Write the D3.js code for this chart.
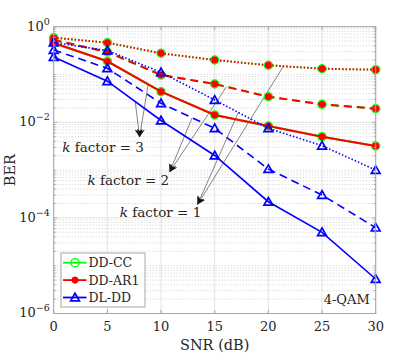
<!DOCTYPE html>
<html>
<head>
<meta charset="utf-8">
<script src="https://cdn.jsdelivr.net/npm/d3@7"></script>
<style>
body { margin: 0; background: #fff; }
</style>
</head>
<body>
<script>
// SNR points (dB)
var snr = [0, 5, 10, 15, 20, 25, 30];

// BER curves, k factor = 1 (dotted), 2 (dashed), 3 (solid)
var ddcc_k1 = [0.589, 0.463, 0.278, 0.201, 0.156, 0.132, 0.126];
var ddcc_k2 = [0.527, 0.296, 0.0977, 0.0633, 0.0343, 0.0238, 0.0193];
var ddcc_k3 = [0.456, 0.189, 0.0437, 0.0142, 0.00837, 0.00500, 0.00319];
var ddar1_k1 = [0.589, 0.463, 0.278, 0.201, 0.156, 0.132, 0.126];
var ddar1_k2 = [0.527, 0.296, 0.0977, 0.0633, 0.0343, 0.0238, 0.0193];
var ddar1_k3 = [0.456, 0.189, 0.0437, 0.0142, 0.00837, 0.00500, 0.00319];
var dldd_k1 = [0.467, 0.318, 0.111, 0.0293, 0.00749, 0.00324, 0.00100];
var dldd_k2 = [0.326, 0.135, 0.0250, 0.00749, 0.00105, 0.000301, 0.0000624];
var dldd_k3 = [0.232, 0.0724, 0.0109, 0.00202, 0.000218, 0.0000500, 0.00000527];

var xTicks = [0, 5, 10, 15, 20, 25, 30];
var yTickExp = [0, -2, -4, -6];

var margin = {top: 26.7, right: 39.3, bottom: 42.5, left: 53.7}
, width = 415 - margin.left - margin.right
, height = 356 - margin.top - margin.bottom;

var x = d3.scaleLinear().domain([0, 30]).range([0, width]);
var y = d3.scaleLog().domain([1e-6, 1]).range([height, 0]);

var svg = d3.select('body').append('svg')
.attr('width', 415)
.attr('height', 356)
.style('font-family', 'DejaVu Serif')
.attr('fill', '#262626');

var main = svg.append('g')
.attr('transform', 'translate(' + margin.left + ',' + margin.top + ')');

// minor grid (dotted) for the log axis
var minor = [];
for (var e = -6; e < 0; e++) {
  for (var m = 1; m < 10; m++) {
    var v = m * Math.pow(10, e);
    if (m == 1 && e % 2 == 0) continue;
    minor.push(v);
  }
}
main.append('g').selectAll('line').data(minor).enter().append('line')
.attr('x1', 0).attr('x2', width)
.attr('y1', function(d) { return y(d); })
.attr('y2', function(d) { return y(d); })
.attr('stroke', '#c4c4c4')
.attr('stroke-width', 0.8)
.attr('stroke-dasharray', '1,2');

// major grid
main.append('g').selectAll('line').data(yTickExp).enter().append('line')
.attr('x1', 0).attr('x2', width)
.attr('y1', function(d) { return y(Math.pow(10, d)); })
.attr('y2', function(d) { return y(Math.pow(10, d)); })
.attr('stroke', '#e2e2e2');
main.append('g').selectAll('line').data(xTicks).enter().append('line')
.attr('y1', 0).attr('y2', height)
.attr('x1', function(d) { return x(d); })
.attr('x2', function(d) { return x(d); })
.attr('stroke', '#e2e2e2');

// annotation arrows
function interp(arr, s) {
  var i = Math.min(Math.floor(s / 5), 5), t = (s - snr[i]) / 5;
  return Math.pow(10, Math.log10(arr[i]) * (1 - t) + Math.log10(arr[i + 1]) * t);
}
var notes = [
  {k: 3, tip: [8.0, 4.9e-3], from: [[dldd_k3, 7.6], [ddar1_k3, 8.8]], text: [4.6, 2.4e-3]},
  {k: 2, tip: [10.8, 9.1e-4], from: [[dldd_k2, 12.9], [ddar1_k2, 16.1]], text: [6.95, 4.9e-4]},
  {k: 1, tip: [13.4, 1.9e-4], from: [[dldd_k1, 17.2], [ddar1_k1, 21.4]], text: [9.95, 1.06e-4]}
];

svg.append('defs').append('marker')
.attr('id', 'head')
.attr('viewBox', '0 0 10 10')
.attr('refX', 10).attr('refY', 5)
.attr('markerWidth', 8).attr('markerHeight', 8)
.attr('markerUnits', 'userSpaceOnUse')
.attr('orient', 'auto')
.append('path')
.attr('d', 'M0,0 L10,5 L0,10 L3,5 Z')
.attr('fill', '#111');

var ann = main.append('g');
notes.forEach(function(n) {
  n.from.forEach(function(f) {
    ann.append('line')
    .attr('x1', x(f[1])).attr('y1', y(interp(f[0], f[1])))
    .attr('x2', x(n.tip[0])).attr('y2', y(n.tip[1]))
    .attr('stroke', '#333')
    .attr('stroke-width', 0.6)
    .attr('marker-end', 'url(#head)');
  });
  var t = ann.append('text')
  .attr('x', x(n.text[0])).attr('y', y(n.text[1]))
  .attr('text-anchor', 'middle')
  .attr('font-size', 13.5);
  t.append('tspan').attr('font-style', 'italic').text('k');
  t.append('tspan').text(' factor = ' + n.k);
});

// curves
var series = [
  {data: ddcc_k1, color: '#00ff00', dash: '1.5,2', mark: 'circle'},
  {data: ddcc_k2, color: '#00ff00', dash: '8,5', mark: 'circle'},
  {data: ddcc_k3, color: '#00ff00', dash: null, mark: 'circle'},
  {data: ddar1_k1, color: '#ff0000', dash: '1.5,2', mark: 'star'},
  {data: ddar1_k2, color: '#ff0000', dash: '8,5', mark: 'star'},
  {data: ddar1_k3, color: '#ff0000', dash: null, mark: 'star'},
  {data: dldd_k1, color: '#0000ff', dash: '1.5,2', mark: 'tri'},
  {data: dldd_k2, color: '#0000ff', dash: '8,5', mark: 'tri'},
  {data: dldd_k3, color: '#0000ff', dash: null, mark: 'tri'}
];

var line = d3.line()
.x(function(d, i) { return x(snr[i]); })
.y(function(d) { return y(d); });

var circleSym = d3.symbol().type(d3.symbolCircle).size(52);
var starSym = d3.symbol().type(d3.symbolAsterisk).size(30);
var triSym = d3.symbol().type(d3.symbolTriangle2).size(55);

function drawMarker(g, kind, color) {
  if (kind == 'circle') {
    g.append('path').attr('d', circleSym()).attr('fill', 'none')
    .attr('stroke', color).attr('stroke-width', 1.3);
  } else if (kind == 'star') {
    g.append('circle').attr('r', 3.4).attr('fill', color);
    g.append('path').attr('d', starSym()).attr('fill', 'none')
    .attr('stroke', color).attr('stroke-width', 1.8);
  } else {
    g.append('path').attr('d', triSym()).attr('fill', 'none')
    .attr('stroke', color).attr('stroke-width', 1.7)
    .attr('transform', 'translate(0,0.8)');
  }
}

var curves = main.append('g');
series.forEach(function(s) {
  curves.append('path')
  .attr('d', line(s.data))
  .attr('fill', 'none')
  .attr('stroke', s.color)
  .attr('stroke-width', s.color == '#0000ff' ? 1.6 : 2)
  .attr('stroke-dasharray', s.dash);
  s.data.forEach(function(d, i) {
    var g = curves.append('g')
    .attr('transform', 'translate(' + x(snr[i]) + ',' + y(d) + ')');
    drawMarker(g, s.mark, s.color);
  });
});

// axes box and ticks (inside)
var axisColor = '#a6a6a6';
main.append('rect')
.attr('width', width).attr('height', height)
.attr('fill', 'none')
.attr('stroke', axisColor);

var ticks = main.append('g').attr('stroke', axisColor);
xTicks.forEach(function(d) {
  ticks.append('line').attr('x1', x(d)).attr('x2', x(d)).attr('y1', height).attr('y2', height - 3.5);
  ticks.append('line').attr('x1', x(d)).attr('x2', x(d)).attr('y1', 0).attr('y2', 3.5);
});
yTickExp.forEach(function(d) {
  ticks.append('line').attr('x1', 0).attr('x2', 3.5).attr('y1', y(Math.pow(10, d))).attr('y2', y(Math.pow(10, d)));
  ticks.append('line').attr('x1', width).attr('x2', width - 3.5).attr('y1', y(Math.pow(10, d))).attr('y2', y(Math.pow(10, d)));
});
minor.forEach(function(d) {
  ticks.append('line').attr('x1', 0).attr('x2', 2).attr('y1', y(d)).attr('y2', y(d));
  ticks.append('line').attr('x1', width).attr('x2', width - 2).attr('y1', y(d)).attr('y2', y(d));
});

// tick labels
main.append('g').selectAll('text').data(xTicks).enter().append('text')
.attr('x', function(d) { return x(d); })
.attr('y', height + 18)
.attr('text-anchor', 'middle')
.attr('font-size', 13)
.text(function(d) { return d; });

var yl = main.append('g').selectAll('text').data(yTickExp).enter().append('text')
.attr('x', -4)
.attr('y', function(d) { return y(Math.pow(10, d)) + 4; })
.attr('text-anchor', 'end')
.attr('font-size', 13);
yl.append('tspan').text('10');
yl.append('tspan').attr('dy', -6).attr('font-size', 9.5)
.text(function(d) { return d == 0 ? '0' : '\u2212' + (-d); });

// axis titles
svg.append('text')
.attr('x', margin.left + width / 2)
.attr('y', 350)
.attr('text-anchor', 'middle')
.attr('font-size', 14.5)
.text('SNR (dB)');

svg.append('text')
.attr('transform', 'translate(15,' + (margin.top + height / 2) + ') rotate(-90)')
.attr('text-anchor', 'middle')
.attr('font-size', 14.5)
.text('BER');

main.append('text')
.attr('x', width - 6)
.attr('y', height - 9)
.attr('text-anchor', 'end')
.attr('font-size', 13)
.text('4-QAM');

// legend
var legendNames = ['DD-CC', 'DD-AR1', 'DL-DD'];
var legendColors = ['#00ff00', '#ff0000', '#0000ff'];
var legendMarks = ['circle', 'star', 'tri'];

var leg = svg.append('g').attr('transform', 'translate(61,253)');
leg.append('rect')
.attr('width', 84).attr('height', 54)
.attr('fill', '#fff')
.attr('stroke', axisColor);
legendNames.forEach(function(name, i) {
  var cy = 9.7 + i * 17.4;
  leg.append('line')
  .attr('x1', 2).attr('x2', 25.5)
  .attr('y1', cy).attr('y2', cy)
  .attr('stroke', legendColors[i])
  .attr('stroke-width', 1.8);
  var g = leg.append('g').attr('transform', 'translate(14,' + cy + ')');
  drawMarker(g, legendMarks[i], legendColors[i]);
  leg.append('text')
  .attr('x', 27.5).attr('y', cy + 4.5)
  .attr('font-size', 12.5)
  .text(name);
});
</script>
</body>
</html>
